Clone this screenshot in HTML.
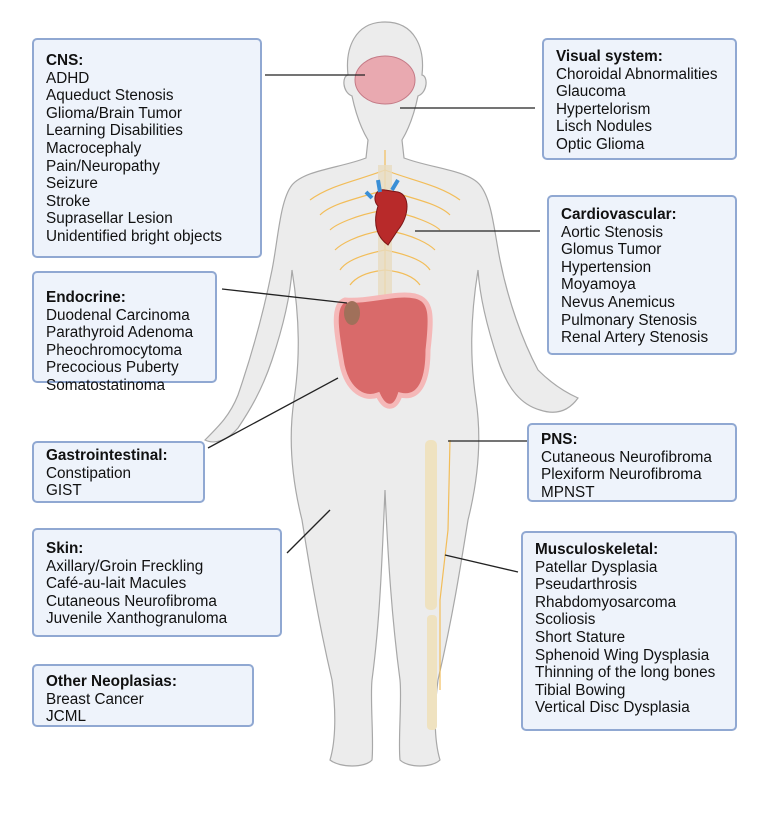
<!DOCTYPE html>
<html><head><style>
body{margin:0;width:768px;height:823px;background:#fff;position:relative;overflow:hidden;font-family:"Liberation Sans",sans-serif;}
.b{position:absolute;box-sizing:border-box;background:#eef3fb;border:2px solid #90a8d2;border-radius:5px;padding:10px 0 0 12px;font-size:15.3px;line-height:17.6px;color:#111;white-space:nowrap;}
.b b{display:block;}
svg{position:absolute;left:0;top:0;}
</style></head><body>
<svg width="768" height="823">
<g fill="#ececec" stroke="#a8a8a8" stroke-width="1.2">
<path d="M385 22 C355 22 345 48 348 75 C342 76 342 92 352 96 C356 115 362 130 368 140 L366 158 C340 168 305 170 292 185 C280 200 278 240 272 270 C262 320 250 360 238 395 C230 415 220 425 205 440 C215 445 228 440 238 428 C250 410 262 390 272 360 C282 330 290 300 292 270 C300 320 300 360 294 400 C288 440 292 480 302 520 C310 570 318 620 332 680 C336 710 336 740 330 760 C340 768 365 768 372 760 C374 740 370 700 372 680 C380 620 382 560 385 490 C388 560 392 620 400 680 C402 700 398 740 400 760 C408 768 432 768 440 760 C434 740 434 710 438 680 C452 620 460 570 468 520 C478 480 482 440 476 400 C470 360 470 320 478 270 C480 300 488 330 498 360 C508 390 522 405 540 410 C555 415 568 412 578 398 C560 390 548 380 538 370 C522 340 508 300 500 260 C494 230 492 200 480 185 C468 170 430 168 404 158 L402 140 C408 130 414 115 418 96 C428 92 428 76 422 75 C425 48 415 22 385 22Z"/>
</g>
<g fill="none" stroke="#f3b84a" stroke-width="1.2" opacity="0.9">
<path d="M385 150 V380"/>
<path d="M385 170 C360 180 330 185 310 200 M385 170 C410 180 440 185 460 200"/>
<path d="M385 190 C350 200 330 205 320 215 M385 190 C420 200 440 205 450 215"/>
<path d="M385 210 C355 215 335 225 330 230 M385 210 C415 215 435 225 440 230"/>
<path d="M385 230 C355 235 340 245 335 250 M385 230 C415 235 430 245 435 250"/>
<path d="M385 250 C360 255 345 262 340 270 M385 250 C410 255 425 262 430 270"/>
<path d="M385 270 C365 272 355 278 350 285 M385 270 C405 272 415 278 420 285"/>
<path d="M450 440 L448 530 L440 600 L440 690"/>
</g>
<rect x="378" y="165" width="14" height="215" fill="#e8dcc0" opacity="0.8"/>
<ellipse cx="385" cy="80" rx="30" ry="24" fill="#e9a9b0" stroke="#c47a86"/>
<path d="M378 206 C372 200 375 188 385 190 L398 192 C410 195 410 215 398 230 L388 245 C378 238 372 225 378 206Z" fill="#b82a2a" stroke="#7a1515"/>
<path d="M380 192 L378 180 M392 190 L398 180 M372 198 L366 192" stroke="#3a8fd6" stroke-width="4"/>
<path d="M345 300 C330 305 338 340 342 365 C348 392 365 400 378 395 C385 410 395 410 400 395 C420 400 428 380 428 350 C432 315 432 300 415 296 C395 292 370 302 345 300Z" fill="#d96a6a" stroke="#f5b8b8" stroke-width="5"/>
<ellipse cx="352" cy="313" rx="8" ry="12" fill="#a0705a"/>
<rect x="425" y="440" width="12" height="170" rx="5" fill="#efe2c0"/>
<rect x="427" y="615" width="10" height="115" rx="4" fill="#efe2c0"/>
<g stroke="#222" stroke-width="1.3">
<line x1="265" y1="75" x2="365" y2="75"/>
<line x1="400" y1="108" x2="535" y2="108"/>
<line x1="415" y1="231" x2="540" y2="231"/>
<line x1="222" y1="289" x2="347" y2="303"/>
<line x1="208" y1="448" x2="338" y2="378"/>
<line x1="448" y1="441" x2="527" y2="441"/>
<line x1="287" y1="553" x2="330" y2="510"/>
<line x1="445" y1="555" x2="518" y2="572"/>
</g>
</svg>
<div class="b" style="left:32px;top:38px;width:230px;height:220px;padding-top:12px"><b>CNS:</b>ADHD<br>Aqueduct Stenosis<br>Glioma/Brain Tumor<br>Learning Disabilities<br>Macrocephaly<br>Pain/Neuropathy<br>Seizure<br>Stroke<br>Suprasellar Lesion<br>Unidentified bright objects</div>
<div class="b" style="left:542px;top:38px;width:195px;height:122px;padding-top:8px"><b>Visual system:</b>Choroidal Abnormalities<br>Glaucoma<br>Hypertelorism<br>Lisch Nodules<br>Optic Glioma</div>
<div class="b" style="left:547px;top:195px;width:190px;height:160px;padding-top:9px"><b>Cardiovascular:</b>Aortic Stenosis<br>Glomus Tumor<br>Hypertension<br>Moyamoya<br>Nevus Anemicus<br>Pulmonary Stenosis<br>Renal Artery Stenosis</div>
<div class="b" style="left:32px;top:271px;width:185px;height:112px;padding-top:16px"><b>Endocrine:</b>Duodenal Carcinoma<br>Parathyroid Adenoma<br>Pheochromocytoma<br>Precocious Puberty<br>Somatostatinoma</div>
<div class="b" style="left:32px;top:441px;width:173px;height:62px;padding-top:4px"><b>Gastrointestinal:</b>Constipation<br>GIST</div>
<div class="b" style="left:527px;top:423px;width:210px;height:79px;padding-top:6px"><b>PNS:</b>Cutaneous Neurofibroma<br>Plexiform Neurofibroma<br>MPNST</div>
<div class="b" style="left:32px;top:528px;width:250px;height:109px;padding-top:10px"><b>Skin:</b>Axillary/Groin Freckling<br>Café-au-lait Macules<br>Cutaneous Neurofibroma<br>Juvenile Xanthogranuloma</div>
<div class="b" style="left:521px;top:531px;width:216px;height:200px;padding-top:8px"><b>Musculoskeletal:</b>Patellar Dysplasia<br>Pseudarthrosis<br>Rhabdomyosarcoma<br>Scoliosis<br>Short Stature<br>Sphenoid Wing Dysplasia<br>Thinning of the long bones<br>Tibial Bowing<br>Vertical Disc Dysplasia</div>
<div class="b" style="left:32px;top:664px;width:222px;height:63px;padding-top:7px"><b>Other Neoplasias:</b>Breast Cancer<br>JCML</div>
</body></html>
